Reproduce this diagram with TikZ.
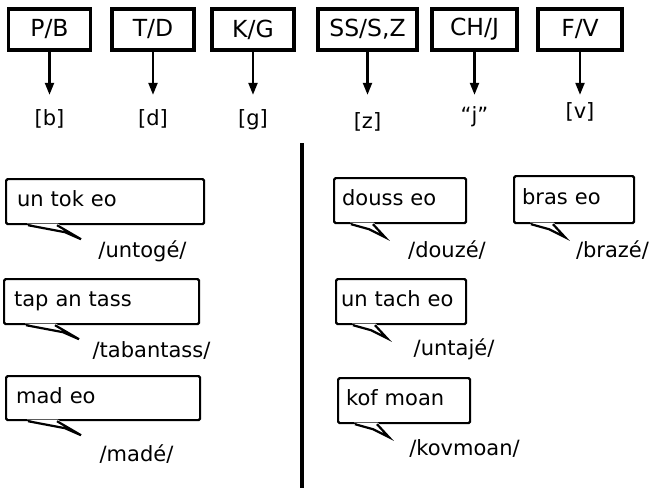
\documentclass[tikz,border=0pt]{standalone}
\usepackage{fontspec}
\setmainfont{DejaVu Sans}
\usetikzlibrary{arrows.meta}

\begin{document}
\begin{tikzpicture}[x=1pt,y=-1pt,
    every node/.style={font=\fontsize{21}{25}\selectfont},
    letterbox/.style={draw,line width=3.2pt,minimum height=41,inner sep=0pt,font=\fontsize{23.5}{27}\selectfont},
    sound/.style={anchor=base,text height=16pt,text depth=4pt,inner ysep=#1,inner xsep=0pt},
    callbox/.style={draw,line width=2.2pt,rounded corners=1.5pt,fill=white,anchor=north west,
      minimum height=45,text height=16pt,text depth=6pt,inner xsep=8pt,inner ysep=4pt,align=left,text width=#1},
    reading/.style={anchor=base,inner sep=0pt},
    tailline/.style={line width=2.2pt,line join=miter},
    pics/longtail/.style={code={
      \fill[white] (22,-1.5) -- (60,7) -- (76,14) -- (53,-1.5) -- cycle;
      \draw[tailline] (23,0) -- (60,7) -- (76,14) -- (52,0);
    }},
    pics/shorttail/.style={code={
      \fill[white] (17,-1.5) -- (36,5) -- (52,13) -- (41,-1.5) -- cycle;
      \draw[tailline] (18,0) -- (36,5) -- (52,13) -- (40,0);
    }},
    arr/.style={line width=2.2pt,-{Triangle[length=12pt,width=9pt]}}]
  \useasboundingbox (0,0) rectangle (653,488);

  \node[letterbox,minimum width=82](pb) at (49.5,29.5){P/B};
  \node[letterbox,minimum width=82](td) at (153,29.5){T/D};
  \node[letterbox,minimum width=82](kg) at (253,29.5){K/G};
  \node[letterbox,minimum width=99](ssz) at (367.5,29.5){SS/S,Z};
  \node[letterbox,minimum width=85](chj) at (474.5,29.5){CH/J};
  \node[letterbox,minimum width=84](fv) at (580,29.5){F/V};

  \node[sound=14pt](b) at (49.5,125){[b]};
  \node[sound=14pt](d) at (153,125){[d]};
  \node[sound=14pt](g) at (253,125){[g]};
  \node[sound=17pt](z) at (367.5,128){[z]};
  \node[sound=11pt](j) at (474.5,122){“j”};
  \node[sound=7pt](v) at (580,118){[v]};

  \draw[arr] (pb) -- (b);
  \draw[arr] (td) -- (d);
  \draw[arr] (kg) -- (g);
  \draw[arr] (ssz) -- (z);
  \draw[arr] (chj) -- (j);
  \draw[arr] (fv) -- (v);

  \coordinate (divtop) at (302,143);
  \coordinate (divbot) at (302,488);
  \draw[line width=3.2pt] (divtop) -- (divbot);

  % left column
  \node[callbox=176pt,inner xsep=11pt](untok) at (5,178){un tok eo};
  \pic at (untok.south west) {longtail};
  \node[reading](untoge) at (142.5,257){/untogé/};

  \node[callbox=175pt,inner xsep=10pt](tapantass) at (3,278){tap an tass};
  \pic at (tapantass.south west) {longtail};
  \node[reading](tabantass) at (151.5,357){/tabantass/};

  \node[callbox=174pt,inner xsep=10pt,minimum height=44](madeo) at (5,375){mad eo};
  \pic at (madeo.south west) {longtail};
  \node[reading](made) at (136.5,461){/madé/};

  % right column
  \node[callbox=116pt](dousseo) at (333,177){douss eo};
  \pic at (dousseo.south west) {shorttail};
  \node[reading](douze) at (447,257){/douzé/};

  \node[callbox=104pt,minimum height=47](braseo) at (513,175){bras eo};
  \pic at (braseo.south west) {shorttail};
  \node[reading](braze) at (612.5,257){/brazé/};

  \node[callbox=120pt,inner xsep=5pt](untach) at (335,278){un tach eo};
  \pic at (untach.south west) {shorttail};
  \node[reading](untaje) at (454,355){/untajé/};

  \node[callbox=116pt](kofmoan) at (337,377){kof moan};
  \pic at (kofmoan.south west) {shorttail};
  \node[reading](kovmoan) at (464.5,455){/kovmoan/};
\end{tikzpicture}
\end{document}
